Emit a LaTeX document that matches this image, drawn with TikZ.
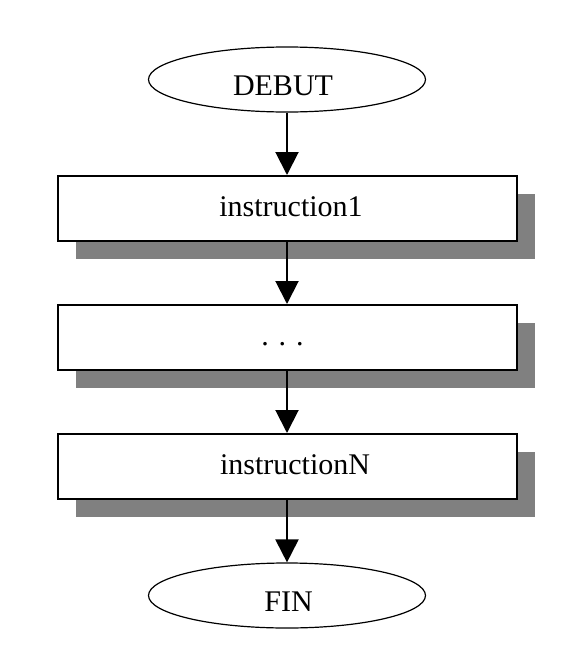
\documentclass[tikz,border=0pt]{standalone}
\usepackage{fontspec}
\setmainfont{Liberation Serif}
\usetikzlibrary{shapes.geometric,arrows.meta,shadows}
\definecolor{shadowgray}{HTML}{808080}
\newcommand\shx[2]{\hspace*{#1}#2\hspace*{-#1}}
\begin{document}
\begin{tikzpicture}[x=1pt,y=-1pt,
  term/.style={draw=black,line width=1.2pt,ellipse,minimum width=277pt,minimum height=65pt,inner sep=0pt,fill=white,font=\fontsize{30}{36}\selectfont,text height=31pt,text depth=0pt},
  instr/.style={draw=black,line width=2pt,rectangle,minimum width=459pt,minimum height=65pt,inner sep=0pt,fill=white,font=\fontsize{30}{36}\selectfont,text height=15pt,text depth=0pt,
    drop shadow={shadow xshift=17.5pt,shadow yshift=-17.5pt,fill=shadowgray,opacity=1}},
  flow/.style={line width=2pt,-{Triangle[width=23pt,length=23pt]}}]
\useasboundingbox (0,0) rectangle (586,656);
\node[term] (debut) at (287,79.5) {\shx{-4pt}{DEBUT}};
\node[instr] (i1) at (287.5,208.5) {\shx{3.5pt}{instruction1}};
\node[instr] (i2) at (287.5,337.5) {\shx{-5pt}{.\hspace{10pt}.\hspace{10pt}.}};
\node[instr] (i3) at (287.5,466.5) {\shx{7.5pt}{instructionN}};
\node[term] (fin) at (287,595.5) {\shx{1.5pt}{FIN}};
\draw[flow] (debut.south) -- (debut.south |- i1.north);
\draw[flow] (i1.south -| debut.south) -- (debut.south |- i2.north);
\draw[flow] (i2.south -| debut.south) -- (debut.south |- i3.north);
\draw[flow] (i3.south -| debut.south) -- (fin.north);
\end{tikzpicture}
\end{document}
